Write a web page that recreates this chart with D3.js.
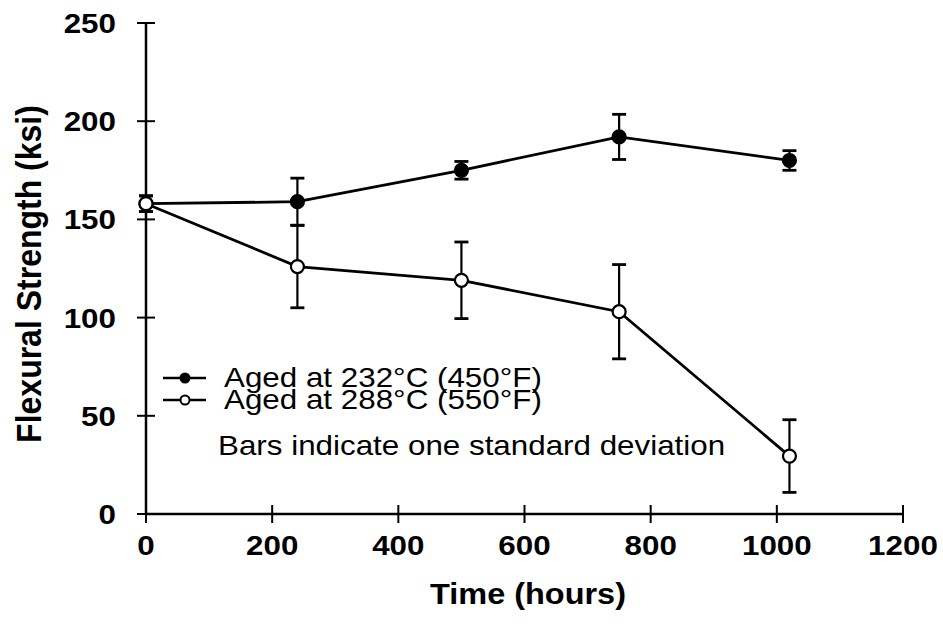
<!DOCTYPE html>
<html>
<head>
<meta charset="utf-8">
<title>Flexural Strength</title>
<style>
  html, body { margin: 0; padding: 0; background: #fff; }
  text { font-family: "Liberation Sans", Arial, sans-serif; fill: #000; }
  .tick-label { font-size: 28px; font-weight: bold; }
  .axis-title { font-size: 29px; font-weight: bold; }
  .legend-text { font-size: 28px; }
</style>
</head>
<body>
<script src="https://d3js.org/d3.v7.min.js"></script>
<script>
// data
var hours = [0, 240, 500, 750, 1020];
var aged232 = [158, 159, 175, 192, 180];
var aged232Sd = [4, 12, 4.5, 11.5, 5];
var aged288 = [158, 126, 119, 103, 29.5];
var aged288Sd = [4, 21, 19.5, 24, 18.5];

var xTicks = [0, 200, 400, 600, 800, 1000, 1200];
var yTicks = [0, 50, 100, 150, 200, 250];

var legendLabels = ["Aged at 232°C (450°F)", "Aged at 288°C (550°F)"];
var noteText = "Bars indicate one standard deviation";

var W = 943, H = 626;
var SX = 1.12; // the scanned text is a bit wide

var svg = d3.select("body").append("svg")
    .attr("width", W)
    .attr("height", H);

var x = d3.scaleLinear().domain([0, 1200]).range([146, 903]);
var y = d3.scaleLinear().domain([0, 250]).range([514, 23]);

function wideText(g, cls, tx, ty, anchor, str) {
    return g.append("text")
        .attr("class", cls)
        .attr("transform", "translate(" + tx + "," + ty + ") scale(" + SX + ",1)")
        .attr("text-anchor", anchor)
        .text(str);
}

// axes: ticks cross the axis line
var xAxis = svg.append("g");
xAxis.append("line")
    .attr("x1", x(0)).attr("x2", x(1200))
    .attr("y1", y(0)).attr("y2", y(0))
    .attr("stroke", "#000").attr("stroke-width", 2.5);
xAxis.selectAll("line.tk").data(xTicks).enter().append("line")
    .attr("class", "tk")
    .attr("x1", d => x(d)).attr("x2", d => x(d))
    .attr("y1", y(0) - 9).attr("y2", y(0) + 9)
    .attr("stroke", "#000").attr("stroke-width", 2);
xTicks.forEach(d => wideText(xAxis, "tick-label", x(d), 555, "middle", d));

var yAxis = svg.append("g");
yAxis.append("line")
    .attr("x1", x(0)).attr("x2", x(0))
    .attr("y1", y(0)).attr("y2", y(250))
    .attr("stroke", "#000").attr("stroke-width", 2.5);
yAxis.selectAll("line.tk").data(yTicks).enter().append("line")
    .attr("class", "tk")
    .attr("x1", x(0) - 9).attr("x2", x(0) + 9)
    .attr("y1", d => y(d)).attr("y2", d => y(d))
    .attr("stroke", "#000").attr("stroke-width", 2);
yTicks.forEach(d => wideText(yAxis, "tick-label", 116, y(d) + 10, "end", d));

wideText(svg, "axis-title", 528, 604, "middle", "Time (hours)");

svg.append("text")
    .attr("class", "axis-title")
    .attr("transform", "translate(41,274) scale(" + SX + ",1) rotate(-90)")
    .attr("text-anchor", "middle")
    .style("font-size", "32px")
    .text("Flexural Strength (ksi)");

// series
var line = d3.line().x(d => x(d[0])).y(d => y(d[1]));

function drawSeries(vals, sds, filled) {
    var pts = hours.map((h, i) => [h, vals[i], sds[i]]);
    var g = svg.append("g");
    g.append("path")
        .attr("d", line(pts))
        .attr("fill", "none")
        .attr("stroke", "#000")
        .attr("stroke-width", 2.8);
    var eb = g.selectAll("g.eb").data(pts).enter().append("g");
    eb.append("line")
        .attr("x1", d => x(d[0])).attr("x2", d => x(d[0]))
        .attr("y1", d => y(d[1] + d[2])).attr("y2", d => y(d[1] - d[2]))
        .attr("stroke", "#000").attr("stroke-width", 2.2);
    eb.append("line")
        .attr("x1", d => x(d[0]) - 7).attr("x2", d => x(d[0]) + 7)
        .attr("y1", d => y(d[1] + d[2])).attr("y2", d => y(d[1] + d[2]))
        .attr("stroke", "#000").attr("stroke-width", 2.8);
    eb.append("line")
        .attr("x1", d => x(d[0]) - 7).attr("x2", d => x(d[0]) + 7)
        .attr("y1", d => y(d[1] - d[2])).attr("y2", d => y(d[1] - d[2]))
        .attr("stroke", "#000").attr("stroke-width", 2.8);
    g.selectAll("circle").data(pts).enter().append("circle")
        .attr("cx", d => x(d[0])).attr("cy", d => y(d[1]))
        .attr("r", 6.5)
        .attr("fill", filled ? "#000" : "#fff")
        .attr("stroke", "#000").attr("stroke-width", 2.2);
}

drawSeries(aged232, aged232Sd, true);
drawSeries(aged288, aged288Sd, false);

// legend
var legend = svg.append("g");
var legendRows = [{ y: 378, filled: true }, { y: 400, filled: false }];
legendRows.forEach((r, i) => {
    legend.append("line")
        .attr("x1", 163).attr("x2", 206)
        .attr("y1", r.y).attr("y2", r.y)
        .attr("stroke", "#000").attr("stroke-width", 2.5);
    legend.append("circle")
        .attr("cx", 185).attr("cy", r.y).attr("r", 4.5)
        .attr("fill", r.filled ? "#000" : "#fff")
        .attr("stroke", "#000").attr("stroke-width", 2);
    wideText(legend, "legend-text", 224, r.y + 9, "start", legendLabels[i]);
});
wideText(legend, "legend-text", 218, 455, "start", noteText);
</script>
</body>
</html>
